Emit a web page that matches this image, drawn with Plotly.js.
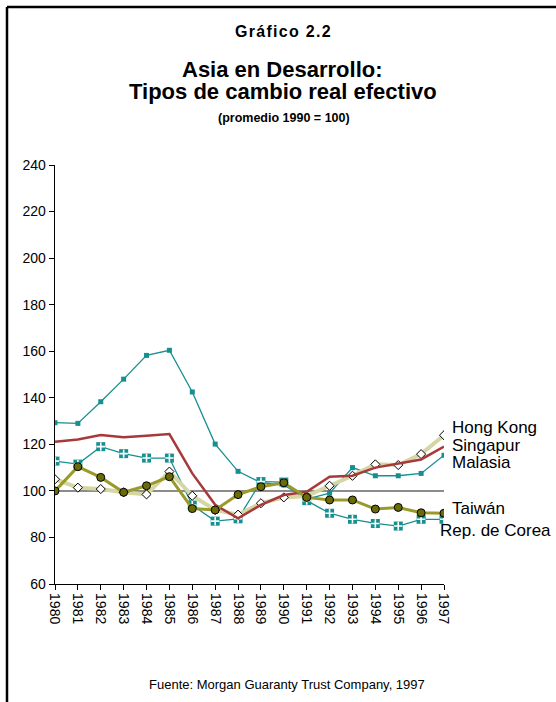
<!DOCTYPE html>
<html><head><meta charset="utf-8">
<script src="https://cdn.plot.ly/plotly-3.0.1.min.js"></script>
<style>html,body{margin:0;padding:0;background:#fff;}#chart{width:556px;height:702px;}</style>
</head><body><div id="chart"></div>
<script>
const years = [1980,1981,1982,1983,1984,1985,1986,1987,1988,1989,1990,1991,1992,1993,1994,1995,1996,1997];
const tickLabels = years.map(String);
const malasia   = [129.3,129.0,138.3,148.0,158.2,160.4,142.5,120.1,108.4,103.5,102.5,96.5,99.0,110.0,106.5,106.5,107.5,115.3];
const corea     = [112.8,111.5,119.0,116.0,114.1,114.1,93.9,87.0,88.0,104.0,103.8,95.8,90.4,87.8,86.0,84.9,87.8,87.8];
const singapur  = [121.1,122.1,124.0,123.0,123.7,124.4,107.5,94.0,88.2,94.0,98.2,99.6,106.1,106.5,110.0,111.8,113.5,119.0];
const hongkong  = [105.0,101.4,100.8,99.4,98.5,108.3,97.9,91.8,89.8,94.7,97.2,97.8,102.2,106.5,111.4,111.1,115.8,123.9];
const taiwan    = [100.0,110.4,105.8,99.4,102.2,106.1,92.4,91.8,98.4,101.8,103.5,97.2,96.1,96.1,92.2,92.9,90.6,90.4];
const seriesNames = ["Hong Kong","Singapur","Malasia","Taiwán","Rep. de Corea"];
const labelY = [127.4,119.7,112.4,92.6,83.2];
const baseValue = 100;

const teal = "#168f8f";
const traces = [
  {x:years, y:malasia, mode:"lines+markers", line:{color:teal,width:1.3},
   marker:{symbol:"square",size:5,color:teal}},
  {x:years, y:corea, mode:"lines+markers", line:{color:teal,width:1.3},
   marker:{symbol:"square",size:9,color:teal}},
  {x:years, y:corea, mode:"markers", hoverinfo:"skip",
   marker:{symbol:"cross-thin",size:6,color:"#ffffff",line:{color:"#ffffff",width:1.6}}},
  {x:years, y:hongkong, mode:"lines+markers", line:{color:"#d6d6a4",width:4},
   marker:{symbol:"diamond",size:7,color:"#ffffff",line:{color:"#000000",width:1}}},
  {x:years, y:singapur, mode:"lines", line:{color:"#a8393b",width:2.5}},
  {x:years, y:taiwan, mode:"lines+markers", line:{color:"#9a9a2a",width:3},
   marker:{symbol:"circle",size:8,color:"#6b6b06",line:{color:"#000000",width:1}}}
];

const font = "Arial, 'Liberation Sans', sans-serif";
const ann = [
  {text:"<b><span style=\"letter-spacing:1.3px\">Gráfico 2.2</span></b>", xref:"paper", yref:"paper", x:0.588, y:1.3198, showarrow:false, font:{size:16,family:font,color:"#000"}, xanchor:"center", yanchor:"middle"},
  {text:"<b>Asia en Desarrollo:</b>", xref:"paper", yref:"paper", x:0.586, y:1.2291, showarrow:false, font:{size:22,family:font,color:"#000"}, xanchor:"center", yanchor:"middle"},
  {text:"<b>Tipos de cambio real efectivo</b>", xref:"paper", yref:"paper", x:0.586, y:1.1766, showarrow:false, font:{size:22,family:font,color:"#000"}, xanchor:"center", yanchor:"middle"},
  {text:"<b>(promedio 1990 = 100)</b>", xref:"paper", yref:"paper", x:0.588, y:1.1122, showarrow:false, font:{size:12.5,family:font,color:"#000"}, xanchor:"center", yanchor:"middle"},
  {text:"Fuente: Morgan Guaranty Trust Company, 1997", xref:"paper", yref:"paper", x:0.596, y:-0.2387, showarrow:false, font:{size:13,family:font,color:"#000"}, xanchor:"center", yanchor:"middle"}
];
seriesNames.forEach((n,i)=>{
  ann.push({text:n, xref:"x", yref:"y", x:years[years.length-1], y:labelY[i], showarrow:false,
    xanchor:"left", yanchor:"middle", xshift: i===4 ? -6 : 6,
    font:{size:17,family:font,color:"#000"}});
});

const layout = {
  width:556, height:702,
  margin:{l:55,r:112,t:165,b:118},
  paper_bgcolor:"#ffffff", plot_bgcolor:"#ffffff",
  showlegend:false,
  font:{family:font,color:"#000"},
  xaxis:{range:[1980,1997], tickmode:"array", tickvals:years, ticktext:tickLabels, tickangle:90,
    showgrid:false, zeroline:false, showline:true, linecolor:"#000", linewidth:1.3,
    ticks:"outside", ticklen:5, tickcolor:"#000", tickfont:{size:14,family:font,color:"#000"}},
  yaxis:{range:[60,240], dtick:20, tick0:60, showgrid:false, zeroline:false, showline:true,
    linecolor:"#000", linewidth:1.3, ticks:"outside", ticklen:5, tickcolor:"#000",
    tickfont:{size:14,family:font,color:"#000"}},
  shapes:[
    {type:"line", xref:"x", yref:"y", x0:1980, x1:1997, y0:baseValue, y1:baseValue, line:{color:"#666666",width:1.5}, layer:"below"},
    {type:"line", xref:"paper", yref:"paper", x0:-0.1234, x1:1.33, y0:1.377, y1:1.377, line:{color:"#000",width:2.5}},
    {type:"line", xref:"paper", yref:"paper", x0:-0.1234, x1:-0.1234, y0:1.377, y1:-0.5, line:{color:"#000",width:2.5}}
  ],
  annotations:ann
};
Plotly.newPlot("chart", traces, layout, {staticPlot:true, displayModeBar:false});
</script></body></html>
